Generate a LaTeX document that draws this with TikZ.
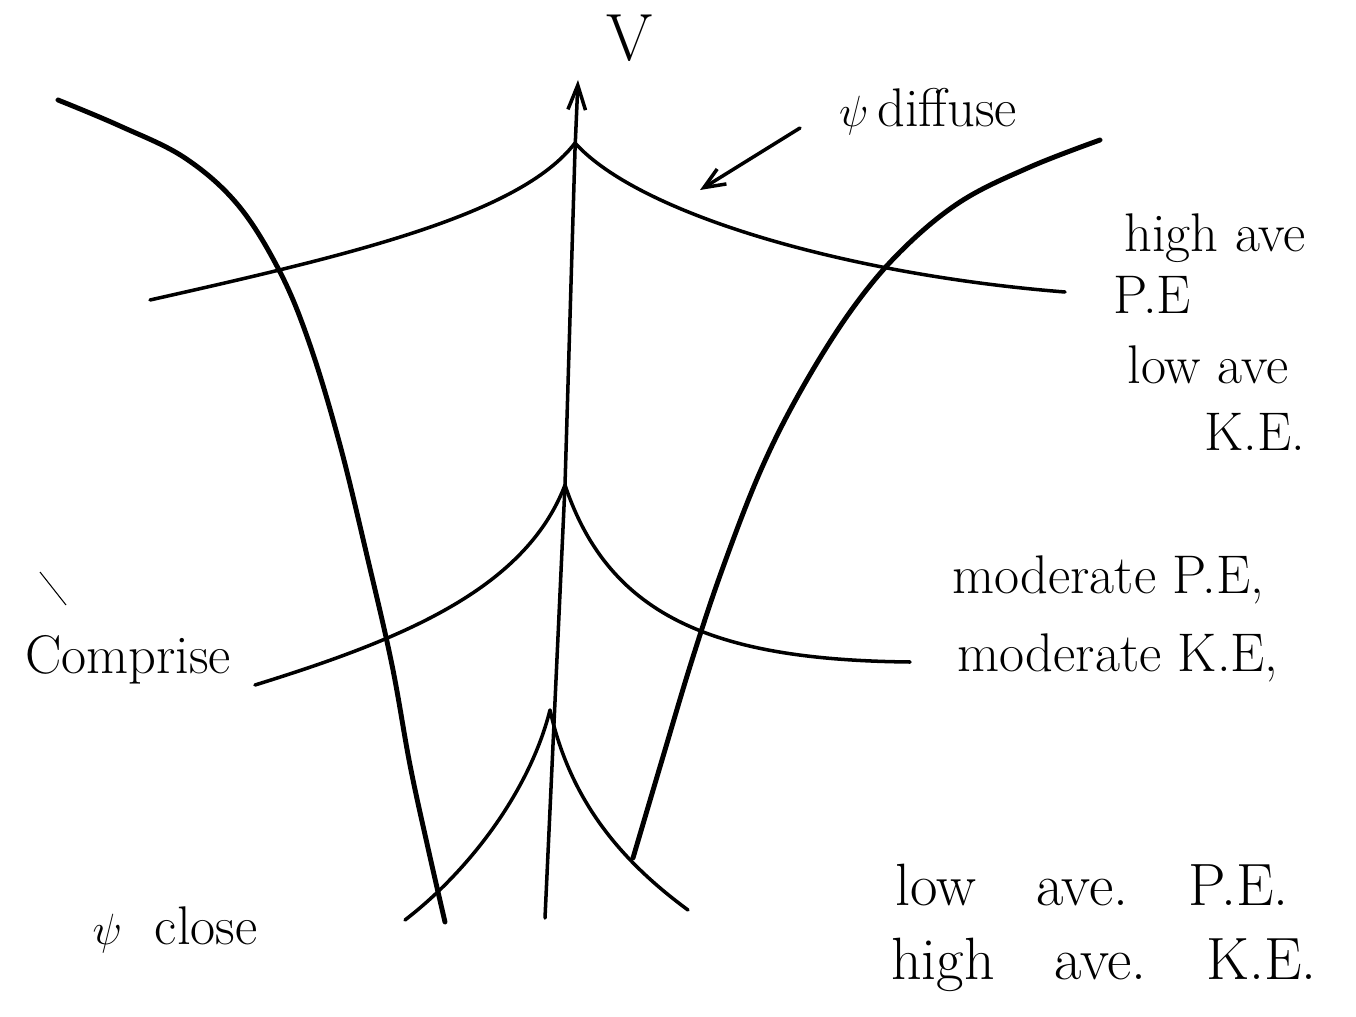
\documentclass[tikz,border=0pt]{standalone}
\usetikzlibrary{arrows.meta}
\begin{document}
\begin{tikzpicture}[x=0.02cm,y=-0.02cm,
  curve/.style={line width=2pt, line cap=round, line join=round},
  bigcurve/.style={line width=2.8pt, line cap=round, line join=round},
  lbl/.style={font=\fontsize{31}{36}\selectfont, inner sep=0pt},
  biglbl/.style={font=\fontsize{34}{40}\selectfont, inner sep=0pt}]
\useasboundingbox (0,0) rectangle (1356,1017);
% axis
\coordinate (ax0) at (545,918);
\coordinate (ax1) at (578,80);
\draw[curve, -{Straight Barb[length=14pt,width=10pt,line width=2pt]}] (ax0) -- (565,485) -- (575,150) -- (ax1);
\node[lbl, font=\fontsize{38}{44}\selectfont] (V) at (630,38) {V};
% top curve
\coordinate (c1) at (575,143);
\draw[curve] (150,300) .. controls (350,255) and (520,215) .. (c1)
  .. controls (640,215) and (850,275) .. (1065,292);
% middle curve
\coordinate (c2) at (565,485);
\draw[curve] (255,685) .. controls (400,640) and (525,590) .. (c2)
  .. controls (610,620) and (720,660) .. (910,662);
% bottom curve
\coordinate (c3) at (550,710);
\draw[curve] (405,920) .. controls (470,870) and (530,790) .. (c3)
  .. controls (570,800) and (620,860) .. (688,910);
% big left curve
\draw[bigcurve] plot[smooth, tension=0.6] coordinates {(58,100) (120,126) (185,158) (238,205) (280,272) (310,345) (340,445) (368,560) (392,665) (410,765) (428,848) (445,922)};
% big right curve
\draw[bigcurve] plot[smooth, tension=0.6] coordinates {(1100,140) (1030,167) (960,202) (900,252) (850,312) (800,392) (760,472) (722,570) (692,660) (662,760) (633,858)};
% stray mark
\draw[line width=0.6pt] (40,572) -- (66,605);
% labels
\node[lbl] (diffuse) at (928,112) {$\psi$\,diffuse};
\coordinate (dtip) at (700,190);
\draw[curve, -{Straight Barb[length=12pt,width=10pt,line width=2pt]}] (800,128) -- (dtip);
\node[lbl] (hi1) at (1215,238) {high ave};
\node[lbl] (pe1) at (1152,295) {P.E};
\node[lbl] (lo1) at (1208,365) {low ave};
\node[lbl] (ke1) at (1255,432) {K.E.};
\node[lbl] (mod1) at (1108,580) {moderate P.E,};
\node[lbl] (mod2) at (1118,658) {moderate K.E,};
\node[lbl] (comp) at (128,660) {Comprise};
\node[lbl] (close) at (175,930) {$\psi$\ \ close};
\node[biglbl] (lo2) at (1092,885) {low\hspace{1em}ave.\hspace{1em}P.E.};
\node[biglbl] (hi2) at (1104,965) {high\hspace{1em}ave.\hspace{1em}K.E.};
\end{tikzpicture}
\end{document}
